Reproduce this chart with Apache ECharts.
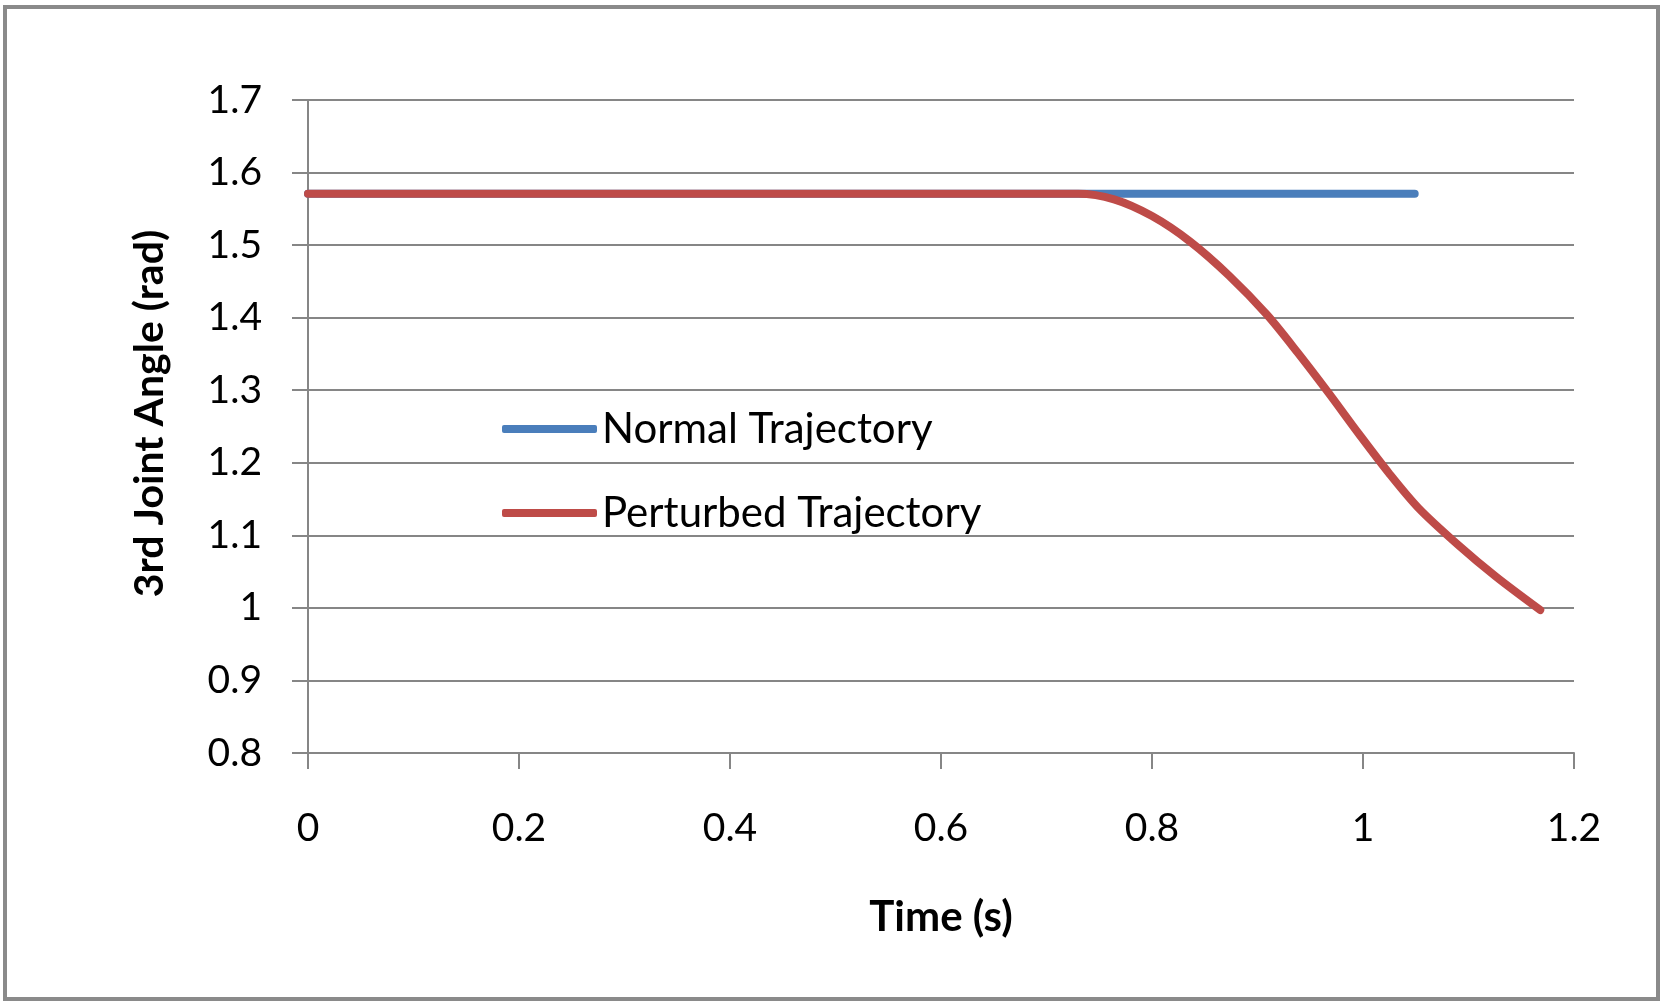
<!DOCTYPE html>
<html>
<head>
<meta charset="utf-8">
<script src="https://cdn.jsdelivr.net/npm/echarts@6/dist/echarts.min.js"></script>
<style>
html,body{margin:0;padding:0;background:#fff;}
#c{width:1667px;height:1007px;}
</style>
</head>
<body>
<div id="c"></div>
<script>
// Data
const normalTime = [0, 0.2, 0.4, 0.6, 0.8, 1.0, 1.049];
const normalAngle = [1.5708, 1.5708, 1.5708, 1.5708, 1.5708, 1.5708, 1.5708];
const perturbedTime = [0, 0.2, 0.4, 0.6, 0.73, 0.764, 0.800, 0.836, 0.873, 0.909, 0.938, 0.967, 0.996, 1.025, 1.053, 1.090, 1.126, 1.168];
const perturbedAngle = [1.5708, 1.5708, 1.5708, 1.5708, 1.5708, 1.563, 1.540, 1.505, 1.458, 1.404, 1.352, 1.297, 1.240, 1.185, 1.137, 1.087, 1.043, 0.997];
const seriesNames = ['Normal Trajectory', 'Perturbed Trajectory'];
const xTitle = 'Time (s)';
const yTitle = '3rd Joint Angle (rad)';

const pair = (xs, ys) => xs.map((x, i) => [x, ys[i]]);
const font = 'Lato, "Open Sans", sans-serif';
const axisGray = '#868686';

const chart = echarts.init(document.getElementById('c'), null, {renderer: 'canvas'});
chart.setOption({
  backgroundColor: '#ffffff',
  animation: false,
  graphic: [{
    type: 'rect',
    shape: {x: 5, y: 7, width: 1653, height: 992},
    style: {fill: 'none', stroke: '#8a8a8a', lineWidth: 4},
    silent: true
  }],
  grid: {left: 308, top: 100, right: 93, bottom: 254, containLabel: false},
  legend: {
    orient: 'vertical',
    left: 497,
    top: 403,
    itemWidth: 95,
    itemHeight: 8,
    itemGap: 42,
    icon: 'roundRect',
    textStyle: {fontFamily: font, fontSize: 42, color: '#000', lineHeight: 42},
    data: seriesNames
  },
  xAxis: {
    type: 'value',
    min: 0, max: 1.2, interval: 0.2,
    name: xTitle,
    nameLocation: 'middle',
    nameGap: 143,
    nameTextStyle: {fontFamily: font, fontSize: 42, fontWeight: 'bold', color: '#000'},
    axisLine: {show: true, lineStyle: {color: axisGray, width: 2}},
    axisTick: {show: true, inside: false, length: 16, lineStyle: {color: axisGray, width: 2}},
    axisLabel: {fontFamily: font, fontSize: 39, color: '#000', margin: 56},
    splitLine: {show: false}
  },
  yAxis: {
    type: 'value',
    min: 0.8, max: 1.7, interval: 0.1,
    name: yTitle,
    nameLocation: 'middle',
    nameGap: 138,
    nameRotate: 90,
    nameTextStyle: {fontFamily: font, fontSize: 41, fontWeight: 'bold', color: '#000', padding: [0, 0, 0, 26]},
    axisLine: {show: true, lineStyle: {color: axisGray, width: 2}},
    axisTick: {show: true, inside: false, length: 16, lineStyle: {color: axisGray, width: 2}},
    axisLabel: {fontFamily: font, fontSize: 39, color: '#000', margin: 46},
    splitLine: {show: true, lineStyle: {color: axisGray, width: 2}}
  },
  series: [
    {
      name: seriesNames[0],
      type: 'line',
      data: pair(normalTime, normalAngle),
      showSymbol: false,
      symbol: 'none',
      color: '#4a7ebb',
      lineStyle: {width: 8, color: '#4a7ebb', cap: 'round'},
      z: 2
    },
    {
      name: seriesNames[1],
      type: 'line',
      data: pair(perturbedTime, perturbedAngle),
      showSymbol: false,
      symbol: 'none',
      smooth: 0.3,
      color: '#be4b48',
      lineStyle: {width: 8, color: '#be4b48', cap: 'round'},
      z: 3
    }
  ]
});
</script>
</body>
</html>
